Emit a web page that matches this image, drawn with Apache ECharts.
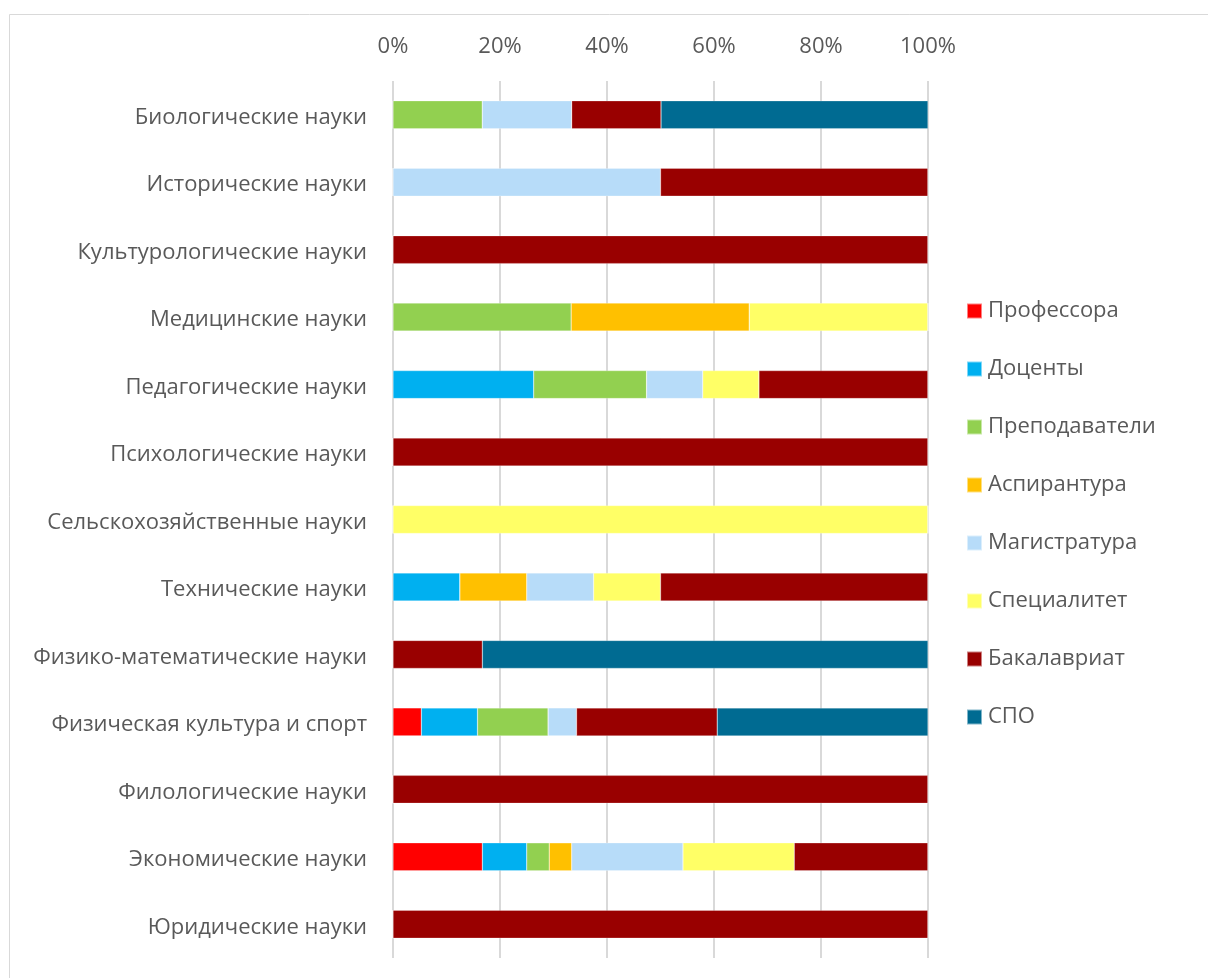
<!DOCTYPE html>
<html><head><meta charset="utf-8">
<script src="https://cdn.jsdelivr.net/npm/echarts@6/dist/echarts.min.js"></script>
<style>html,body{margin:0;padding:0;background:#fff}#c{width:1208px;height:978px}</style>
</head><body><div id="c"></div>
<script>
const categories = ['Биологические науки','Исторические науки','Культурологические науки','Медицинские науки','Педагогические науки','Психологические науки','Сельскохозяйственные науки','Технические науки','Физико-математические науки','Физическая культура и спорт','Филологические науки','Экономические науки','Юридические науки'];
const seriesNames = ['Профессора','Доценты','Преподаватели','Аспирантура','Магистратура','Специалитет','Бакалавриат','СПО'];
const colors = ['#FF0000','#00B0F0','#92D050','#FFC000','#B7DCF9','#FFFF66','#990000','#006B92'];
const professors    = [0,0,0,0,0,0,0,0,0,5.3,0,16.7,0];
const docents       = [0,0,0,0,26.3,0,0,12.5,0,10.5,0,8.3,0];
const teachers      = [16.7,0,0,33.3,21.1,0,0,0,0,13.2,0,4.2,0];
const aspirantura   = [0,0,0,33.3,0,0,0,12.5,0,0,0,4.2,0];
const magistratura  = [16.7,50,0,0,10.5,0,0,12.5,0,5.3,0,20.8,0];
const specialitet   = [0,0,0,33.4,10.5,0,100,12.5,0,0,0,20.8,0];
const bakalavriat   = [16.7,50,100,0,31.6,100,0,50,16.7,26.3,100,25,100];
const spo           = [49.9,0,0,0,0,0,0,0,83.3,39.4,0,0,0];
const xTicks = ['0%','20%','40%','60%','80%','100%'];
const values = [professors,docents,teachers,aspirantura,magistratura,specialitet,bakalavriat,spo];

const chart = echarts.init(document.getElementById('c'));
const font = '"Open Sans", "Noto Sans", sans-serif';
chart.setOption({
  backgroundColor:'#fff',
  textStyle:{fontFamily:font},
  graphic:[{type:'rect',shape:{x:9.5,y:14.5,width:1400,height:1200},style:{fill:'none',stroke:'#D9D9D9',lineWidth:1},silent:true}],
  grid:{left:393,top:81,width:535,height:877,containLabel:false},
  legend:{orient:'vertical',left:961,top:295,itemWidth:15,itemHeight:15,itemGap:36,icon:'rect',
    textStyle:{fontSize:22,color:'#595959',fontFamily:font,padding:[0,0,0,1]},data:seriesNames},
  xAxis:{type:'value',position:'top',min:0,max:100,interval:20,
    axisLabel:{fontSize:22,color:'#595959',margin:23,formatter:v=>xTicks[Math.round(v/20)]},
    splitLine:{lineStyle:{color:'#D9D9D9',width:2}},axisLine:{show:false},axisTick:{show:false}},
  yAxis:{type:'category',inverse:true,data:categories,
    axisLabel:{fontSize:22,color:'#595959',margin:26,verticalAlign:'top',lineHeight:22,padding:[-8,0,0,0]},
    axisLine:{show:false},axisTick:{show:false}},
  series:seriesNames.map((n,i)=>({name:n,type:'bar',stack:'s',barWidth:28,data:values[i],
    itemStyle:{color:colors[i],borderColor:'rgba(255,255,255,0.5)',borderWidth:0.5},
    emphasis:{disabled:true}}))
});
</script></body></html>
